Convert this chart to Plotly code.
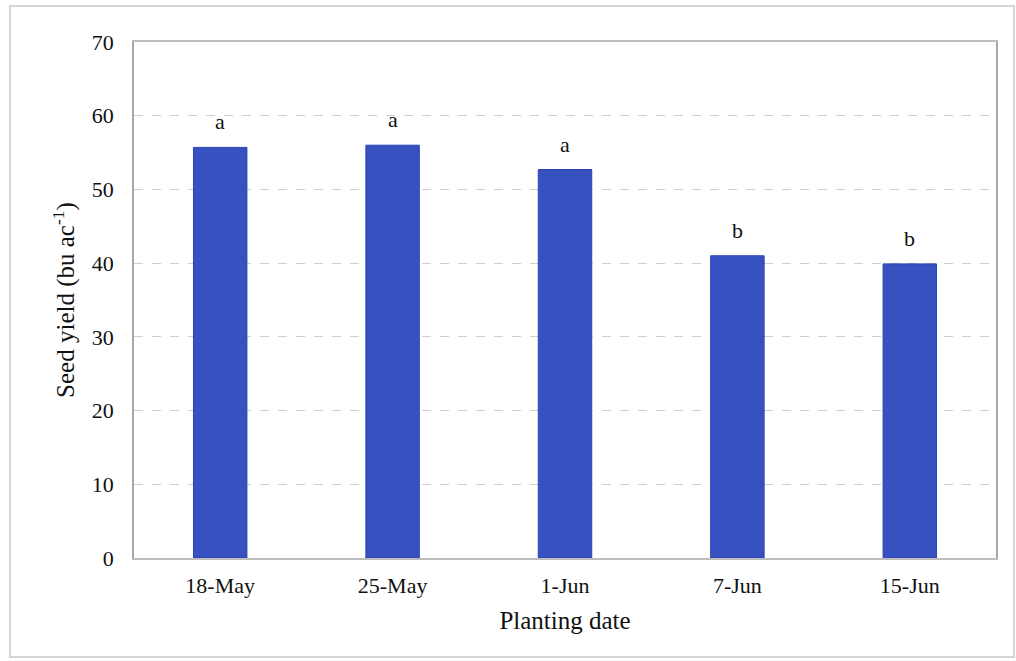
import plotly.graph_objects as go

# Seed yield by planting date
dates = ["18-May", "25-May", "1-Jun", "7-Jun", "15-Jun"]
yield_bu = [55.7, 56.0, 52.7, 41.0, 39.9]
letters = ["a", "a", "a", "b", "b"]
y_ticks = [0, 10, 20, 30, 40, 50, 60, 70]

FONT = "Liberation Serif, Times New Roman, serif"
BAR = "#3851C0"

fig = go.Figure()
fig.add_trace(go.Bar(
    x=dates, y=yield_bu,
    marker=dict(color=BAR, line=dict(color="#2A42B2", width=1)),
    width=0.31,
    hoverinfo="x+y",
))

# significance letters above each bar
for d, v, t in zip(dates, yield_bu, letters):
    fig.add_annotation(x=d, y=v, text=t, showarrow=False, yanchor="bottom",
                       yshift=11, font=dict(family=FONT, size=22, color="#111"))

# light outer frame around the whole chart
fig.add_shape(type="rect", xref="paper", yref="paper",
              x0=-124/862, x1=1014/862 - 134/862, y0=-99/516, y1=552/516,
              line=dict(color="#d4d4d4", width=2), layer="below")

fig.update_layout(
    width=1016, height=661,
    margin=dict(l=134, r=20, t=42, b=103),
    plot_bgcolor="white", paper_bgcolor="white",
    showlegend=False,
    font=dict(family=FONT, size=22, color="#111"),
    xaxis=dict(
        showline=True, linecolor="#bdbdbd", linewidth=1.5, mirror=True,
        ticks="", ticklabelstandoff=7,
        tickfont=dict(family=FONT, size=22),
        title=dict(text="Planting date", font=dict(family=FONT, size=25), standoff=14),
    ),
    yaxis=dict(
        range=[0, 70], tickvals=y_ticks, showline=True, linecolor="#a8a8a8",
        linewidth=1.5, mirror=True,
        showgrid=True, gridcolor="#cfcfcf", griddash="dash", gridwidth=1,
        zeroline=False, ticks="", ticklabelstandoff=14,
        tickfont=dict(family=FONT, size=22),
        title=dict(text="Seed yield (bu ac<sup>-1</sup>)",
                   font=dict(family=FONT, size=25), standoff=10),
    ),
)

fig.write_html("out.html")
